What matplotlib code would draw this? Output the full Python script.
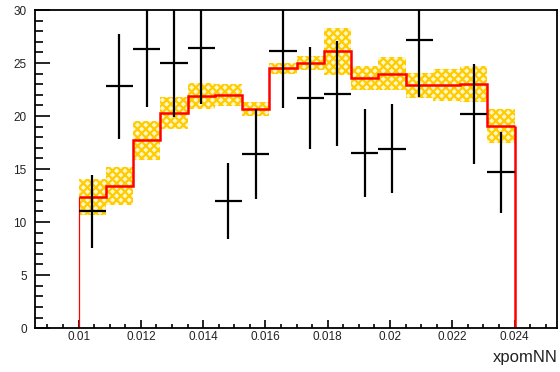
import numpy as np
import matplotlib.pyplot as plt
from matplotlib.ticker import MultipleLocator

plt.rcParams['font.family'] = ['Liberation Sans', 'DejaVu Sans']
plt.rcParams['hatch.linewidth'] = 1.6

# binning: 16 bins between 0.01 and 0.024
edges = np.linspace(0.01, 0.024, 17)
centers = 0.5 * (edges[:-1] + edges[1:])
halfw = 0.5 * (edges[1] - edges[0])

# model histogram (red) and its uncertainty band (yellow)
model = [12.4, 13.4, 17.7, 20.3, 21.9, 22.0, 20.7, 24.5,
         25.0, 26.1, 23.6, 24.0, 22.9, 22.9, 23.0, 19.1]
model_err = [1.7, 1.75, 1.8, 1.5, 1.25, 1.05, 0.65, 0.55,
             0.65, 2.25, 1.1, 1.55, 1.2, 1.5, 1.7, 1.6]

# data points (black crosses), bin 14 empty
data = [11.0, 22.8, 26.3, 25.0, 26.4, 12.0, 16.4, 26.1,
        21.7, 22.1, 16.5, 16.9, 27.2, np.nan, 20.2, 14.7]
data_err = [3.4, 4.95, 5.4, 5.1, 5.3, 3.55, 4.25, 5.3,
            4.85, 4.95, 4.15, 4.2, 5.4, np.nan, 4.7, 3.8]

fig = plt.figure(figsize=(5.6, 3.72), dpi=100)
ax = fig.add_axes([0.0625, 0.118, 0.933, 0.855])

m = np.array(model)
me = np.array(model_err)
ax.bar(centers, 2 * me, bottom=m - me, width=2 * halfw,
       facecolor='#fff6cc', edgecolor='#ffcc00', hatch='xxxx', linewidth=0, zorder=1)

ax.stairs(model, edges, baseline=None, color='#ff0000', lw=1.8, zorder=2)
ax.vlines(edges[0], 0, model[0], color='#ff0000', lw=0.9, zorder=2)
ax.vlines(edges[-1], 0, model[-1], color='#ff0000', lw=1.8, zorder=2)

ax.errorbar(centers, data, yerr=data_err, xerr=halfw, fmt='none',
            ecolor='black', elinewidth=1.6, capsize=0, zorder=3)

ax.set_xlim(0.0086, 0.02538)
ax.set_ylim(0, 30)
ax.xaxis.set_minor_locator(MultipleLocator(0.0005))
ax.yaxis.set_major_locator(MultipleLocator(5))
ax.yaxis.set_minor_locator(MultipleLocator(1))
ax.set_xticks(np.arange(0.01, 0.0245, 0.002))
ax.set_xticklabels(['0.01', '0.012', '0.014', '0.016', '0.018', '0.02', '0.022', '0.024'])
ax.tick_params(axis='both', which='both', direction='in', top=False, right=False,
               width=1.2, labelcolor='#222222')
ax.tick_params(axis='y', which='major', length=11, labelsize=8.5, pad=6)
ax.tick_params(axis='y', which='minor', length=6)
ax.tick_params(axis='x', which='major', length=6, labelsize=8.5, pad=2)
ax.tick_params(axis='x', which='minor', length=3)
for s in ax.spines.values():
    s.set_linewidth(1.3)

ax.set_xlabel('xpomNN', loc='right', fontsize=12, labelpad=5, color='#222222')

fig.savefig('out.png', dpi=100)
